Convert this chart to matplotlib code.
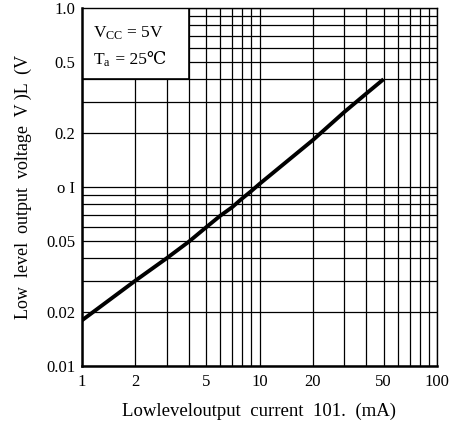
import matplotlib
matplotlib.use("Agg")
import matplotlib.pyplot as plt
from matplotlib.patches import Rectangle
from matplotlib.ticker import NullFormatter

plt.rcParams['font.family'] = ['Liberation Serif', 'DejaVu Serif']
plt.rcParams['mathtext.fontset'] = 'custom'
plt.rcParams['mathtext.rm'] = 'Liberation Serif'
plt.rcParams['mathtext.it'] = 'Liberation Serif'

# curve: Vcc = 5 V, Ta = 25 C
iol_ma = [1, 2, 3, 4, 5, 6, 7, 8, 9, 10, 20, 30, 40, 50]
vol_v = [0.018, 0.03, 0.04, 0.0495, 0.0595, 0.069, 0.077, 0.0864, 0.095,
         0.104, 0.183, 0.262, 0.333, 0.4]

xticks = [1, 2, 5, 10, 20, 50, 100]
xlabels = ['1', '2', '5', '10', '20', '50', '100']
yticks = [0.01, 0.02, 0.05, 0.1, 0.2, 0.5, 1.0]
ylabels = ['0.01', '0.02', '0.05', 'o I', '0.2', '0.5', '1.0']

fig = plt.figure(figsize=(4.62, 4.24), dpi=100)
ax = fig.add_axes([82 / 462, 1 - 366 / 424, 355 / 462, 358 / 424])

ax.set_xscale('log')
ax.set_yscale('log')
ax.set_xlim(1, 100)
ax.set_ylim(0.01, 1.0)

ax.grid(which='both', color='black', linewidth=0.9, zorder=1)

# white condition box in the upper left corner
ax.add_patch(Rectangle((1, 0.4), 3, 0.6, facecolor='white', edgecolor='black',
                       linewidth=1.2, zorder=2))
ax.text(1.15, 0.725, r'V$_{\mathrm{CC}}$ = 5V', fontsize=12.5, va='center', zorder=3)
ta = ax.text(1.15, 0.51, r'T$_{\mathrm{a}}$', fontsize=12.5, va='center', zorder=3)
ax.annotate(' = 25℃', xy=(1, 0.5), xycoords=ta, va='center', ha='left',
            fontsize=12.5, zorder=3)

ax.plot(iol_ma, vol_v, color='black', linewidth=2.8, zorder=4,
        solid_capstyle='butt')

ax.set_xticks(xticks)
ax.set_xticklabels(xlabels)
ax.set_yticks(yticks)
ax.set_yticklabels(ylabels)
ax.xaxis.set_minor_formatter(NullFormatter())
ax.yaxis.set_minor_formatter(NullFormatter())
ax.tick_params(which='both', length=0)
ax.tick_params(axis='x', labelsize=12, pad=6)
ax.tick_params(axis='y', labelsize=12, pad=5)

for side in ['left', 'bottom']:
    ax.spines[side].set_linewidth(1.8)
for side in ['top', 'right']:
    ax.spines[side].set_linewidth(1.0)

ax.set_xlabel('Lowleveloutput  current  101.  (mA)', fontsize=13.5, labelpad=9)
ax.set_ylabel('Low  level  output  voltage  V )L  (V', fontsize=13, labelpad=10)

fig.savefig('out.png', dpi=100)
